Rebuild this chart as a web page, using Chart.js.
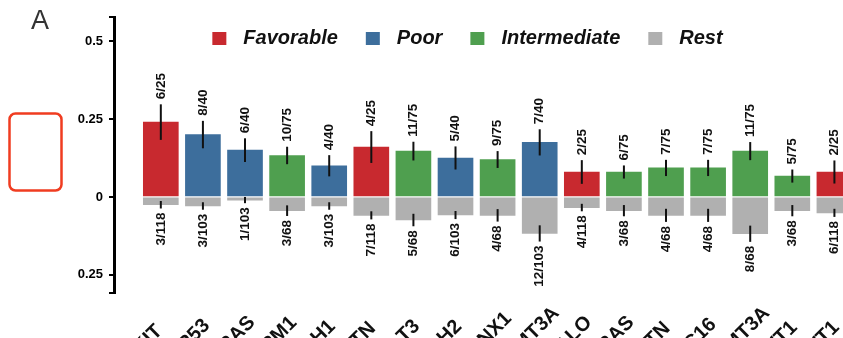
<!DOCTYPE html>
<html>
<head>
<meta charset="utf-8">
<script src="https://cdn.jsdelivr.net/npm/chart.js@4.4.0/dist/chart.umd.min.js"></script>
<style>
  html, body { margin: 0; padding: 0; background: #fff; overflow: hidden; }
</style>
</head>
<body>
<canvas id="chart" width="843" height="338"></canvas>
<script>
  // categories (x labels are cut off at the bottom in the original)
  const categories = ['KIT', 'TP53', 'KRAS', 'NPM1', 'IDH1', 'PTN', 'FLT3', 'IDH2', 'RUNX1', 'DNMT3A',
                      'HALO', 'NRAS', 'PTN', 'NC16', 'DNMT3A', 'WT1', 'WT1'];
  const riskGroups = ['Favorable', 'Poor', 'Poor', 'Intermediate', 'Poor', 'Favorable', 'Intermediate', 'Poor',
                      'Intermediate', 'Poor', 'Favorable', 'Intermediate', 'Intermediate', 'Intermediate',
                      'Intermediate', 'Intermediate', 'Favorable'];

  // share of mutated cases in the risk group (upwards) and in the rest (downwards)
  const groupShare = [0.24, 0.20, 0.15, 0.133, 0.10, 0.16, 0.147, 0.125, 0.12, 0.175, 0.08, 0.08, 0.093, 0.093, 0.147, 0.067, 0.08];
  const groupErr   = [0.057, 0.044, 0.038, 0.028, 0.034, 0.051, 0.030, 0.037, 0.027, 0.042, 0.038, 0.021, 0.026, 0.026, 0.029, 0.021, 0.037];
  const restShare  = [-0.025, -0.029, -0.010, -0.044, -0.029, -0.059, -0.074, -0.058, -0.059, -0.117, -0.034, -0.044, -0.059, -0.059, -0.118, -0.044, -0.051];
  const restErr    = [0.012, 0.012, 0.010, 0.017, 0.012, 0.013, 0.020, 0.013, 0.020, 0.026, 0.012, 0.018, 0.021, 0.021, 0.026, 0.018, 0.013];
  const groupCounts = ['6/25', '8/40', '6/40', '10/75', '4/40', '4/25', '11/75', '5/40', '9/75', '7/40', '2/25', '6/75', '7/75', '7/75', '11/75', '5/75', '2/25'];
  const restCounts  = ['3/118', '3/103', '1/103', '3/68', '3/103', '7/118', '5/68', '6/103', '4/68', '12/103', '4/118', '3/68', '4/68', '4/68', '8/68', '3/68', '6/118'];

  const yTicks = [-0.25, 0, 0.25, 0.5];
  const yMin = -0.308, yMax = 0.577;
  const legendNames = ['Favorable', 'Poor', 'Intermediate', 'Rest'];

  const colors = {
    Favorable: '#c8292f',
    Poor: '#3d6e9c',
    Intermediate: '#4f9f4f',
    Rest: '#b0b0b0'
  };
  const fontFamily = '"Liberation Sans", Arial, Helvetica, sans-serif';

  // error bars, count labels, legend, panel letter and x labels
  const annotate = {
    id: 'annotate',
    afterDatasetsDraw(chart) {
      const { ctx, scales: { x, y } } = chart;
      ctx.save();
      ctx.strokeStyle = '#111';
      ctx.fillStyle = '#111';
      ctx.lineWidth = 2;
      ctx.font = 'bold 13.5px ' + fontFamily;
      ctx.textBaseline = 'middle';
      chart.data.datasets.forEach(ds => {
        ds.data.forEach((pt, i) => {
          const cx = x.getPixelForValue(pt.x);
          const up = y.getPixelForValue(pt.y + ds.errors[i]);
          const down = y.getPixelForValue(pt.y - ds.errors[i]);
          ctx.beginPath();
          ctx.moveTo(cx, up);
          ctx.lineTo(cx, down);
          ctx.stroke();

          ctx.save();
          if (pt.y >= 0) {
            ctx.translate(cx, Math.min(up, down) - 5);
            ctx.rotate(-Math.PI / 2);
            ctx.textAlign = 'left';
          } else {
            ctx.translate(cx, Math.max(up, down) + 4);
            ctx.rotate(-Math.PI / 2);
            ctx.textAlign = 'right';
          }
          ctx.fillText(ds.counts[i], 0, 0);
          ctx.restore();
        });
      });
      ctx.restore();
    },
    afterDraw(chart) {
      const { ctx, scales: { x } } = chart;
      ctx.save();

      // panel letter
      ctx.fillStyle = '#333';
      ctx.font = '27px ' + fontFamily;
      ctx.textAlign = 'left';
      ctx.textBaseline = 'alphabetic';
      ctx.fillText('A', 31, 29);

      // red rounded box
      ctx.strokeStyle = '#f03c20';
      ctx.lineWidth = 2.5;
      ctx.beginPath();
      ctx.roundRect(9.5, 113.5, 52, 77, 6);
      ctx.stroke();

      // legend
      ctx.font = 'italic bold 20px ' + fontFamily;
      ctx.textBaseline = 'middle';
      const box = 14, gapText = 17, gapItem = 28;
      const widths = legendNames.map(n => ctx.measureText(n).width);
      const total = widths.reduce((a, w) => a + box + gapText + w, 0) + gapItem * (legendNames.length - 1);
      let lx = 467.5 - total / 2;
      const ly = 38;
      legendNames.forEach((n, i) => {
        ctx.fillStyle = colors[n];
        ctx.fillRect(lx, ly - 6, box, 13);
        ctx.fillStyle = '#111';
        ctx.fillText(n, lx + box + gapText, ly);
        lx += box + gapText + widths[i] + gapItem;
      });

      // x labels, centred and rotated, clipped by the bottom edge
      ctx.font = 'bold 20px ' + fontFamily;
      ctx.fillStyle = '#111';
      ctx.textAlign = 'center';
      categories.forEach((c, i) => {
        ctx.save();
        ctx.translate(x.getPixelForValue(i) - 13, 339.5);
        ctx.rotate(-Math.PI / 4);
        ctx.fillText(c, 0, 0);
        ctx.restore();
      });
      ctx.restore();
    }
  };

  new Chart(document.getElementById('chart'), {
    type: 'bar',
    data: {
      datasets: [
        {
          label: 'Group',
          data: groupShare.map((v, i) => ({ x: i, y: v })),
          backgroundColor: riskGroups.map(g => colors[g]),
          errors: groupErr,
          counts: groupCounts
        },
        {
          label: 'Rest',
          data: restShare.map((v, i) => ({ x: i, y: v })),
          backgroundColor: colors.Rest,
          errors: restErr,
          counts: restCounts
        }
      ]
    },
    options: {
      responsive: false,
      animation: false,
      devicePixelRatio: 1,
      layout: { padding: { top: 17, bottom: 45, left: 0, right: 0 } },
      datasets: { bar: { barThickness: 35, grouped: false } },
      plugins: { legend: { display: false }, tooltip: { enabled: false } },
      scales: {
        x: { type: 'linear', min: -1.112, max: 16.204, offset: false, display: false },
        y: {
          min: yMin,
          max: yMax,
          afterFit(scale) { scale.width = 114; },
          afterBuildTicks(scale) {
            scale.ticks = [yMin, ...yTicks, yMax].map(v => ({ value: v }));
          },
          ticks: {
            callback: v => yTicks.includes(v) ? String(Math.abs(v)) : '',
            font: { family: fontFamily, size: 13, weight: 'bold' },
            color: '#000',
            padding: 6
          },
          grid: { drawOnChartArea: false, tickLength: 5, lineWidth: 2, color: '#000' },
          border: { width: 3, color: '#000' }
        }
      }
    },
    plugins: [annotate]
  });
</script>
</body>
</html>
